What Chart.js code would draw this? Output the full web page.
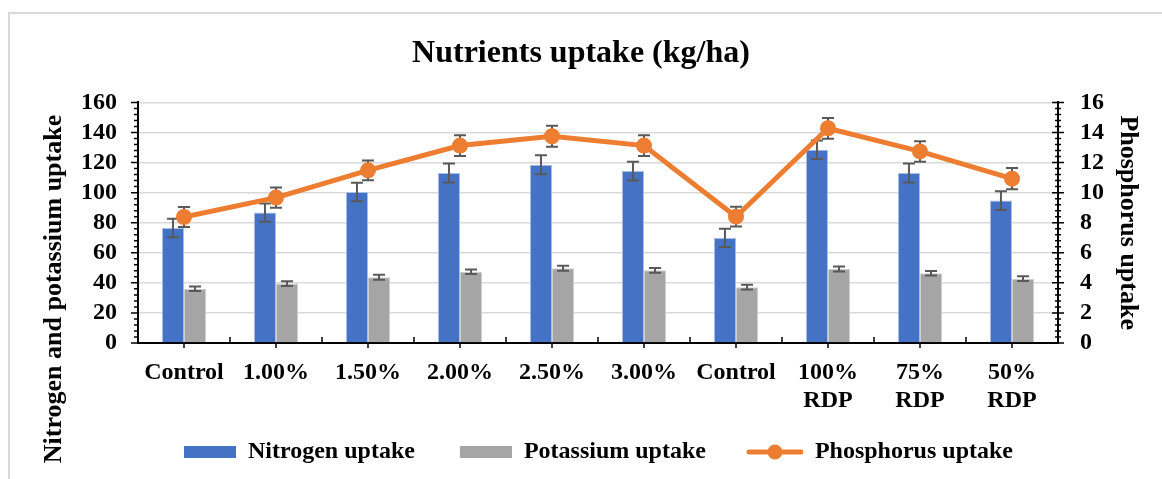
<!DOCTYPE html>
<html>
<head>
<meta charset="utf-8">
<title>Nutrients uptake</title>
<script src="https://cdn.jsdelivr.net/npm/chart.js@4.4.1/dist/chart.umd.min.js"></script>
<style>
body{margin:0;background:#fff}
#wrap{width:1162px;height:479px;position:relative}
</style>
</head>
<body>
<div id="wrap"><canvas id="rel1"></canvas></div>
<script>
var categories = ['Control', '1.00%', '1.50%', '2.00%', '2.50%', '3.00%', 'Control', ['100%', 'RDP'], ['75%', 'RDP'], ['50%', 'RDP']];
var nitrogen = [76.5, 86.7, 100.4, 113, 118.5, 114.3, 69.9, 128.5, 113, 94.7];
var nitrogenErr = [6.2, 6.1, 6.1, 6.3, 6.3, 6.3, 6.1, 6.1, 6.3, 6.2];
var potassium = [36, 39.5, 43.7, 47.4, 49.7, 48.3, 37.1, 49.2, 46.4, 42.8];
var potassiumErr = [1.5, 1.6, 1.7, 1.5, 1.7, 1.6, 1.6, 1.6, 1.5, 1.6];
var phosphorus = [8.38, 9.67, 11.48, 13.13, 13.75, 13.13, 8.4, 14.28, 12.74, 10.93];
var phosphorusErr = [0.67, 0.67, 0.66, 0.69, 0.7, 0.69, 0.66, 0.69, 0.68, 0.7];
var leftTicks = {min: 0, max: 160, step: 20};
var rightTicks = {min: 0, max: 16, step: 2};

var serif = "'Liberation Serif', 'Times New Roman', serif";

// legend icons (blank space on the left makes the gap between items)
function icon(kind, color){
    var c = document.createElement('canvas');
    c.width = 87; c.height = 18;
    var g = c.getContext('2d');
    g.fillStyle = color; g.strokeStyle = color;
    if (kind === 'box') {
        g.fillRect(35, 3, 52, 12);
    } else {
        g.lineWidth = 5; g.lineCap = 'round';
        g.beginPath(); g.moveTo(33, 9); g.lineTo(85, 9); g.stroke();
        g.beginPath(); g.arc(59, 9, 7.5, 0, Math.PI * 2); g.fill();
    }
    return c;
}
var legendIcons = [icon('box', '#4472C4'), icon('box', '#A5A5A5'), icon('line', '#ED7D31')];

function drawErr(chart, i){
    var meta = chart.getDatasetMeta(i);
    var ds = chart.data.datasets[i];
    var scale = chart.scales[meta.yAxisID];
    var ctx = chart.ctx;
    ctx.save();
    ctx.strokeStyle = '#595959';
    ctx.lineWidth = 2;
    meta.data.forEach(function(el, j){
        var v = ds.data[j], e = ds.errors[j];
        var t = scale.getPixelForValue(v + e), b = scale.getPixelForValue(v - e);
        ctx.beginPath();
        ctx.moveTo(el.x, t); ctx.lineTo(el.x, b);
        ctx.moveTo(el.x - 6, t); ctx.lineTo(el.x + 6, t);
        ctx.moveTo(el.x - 6, b); ctx.lineTo(el.x + 6, b);
        ctx.stroke();
    });
    ctx.restore();
}

var errorBars = {
    id: 'errorBars',
    afterDatasetDraw: function(chart, args){ if (args.meta.type === 'bar') drawErr(chart, args.index); },
    beforeDatasetDraw: function(chart, args){ if (args.meta.type === 'line') drawErr(chart, args.index); }
};

var frame = {
    id: 'frame',
    beforeDraw: function(chart){
        var ctx = chart.ctx;
        ctx.save();
        ctx.strokeStyle = '#D9D9D9';
        ctx.lineWidth = 2;
        ctx.strokeRect(9, 13, 1250, 560);
        ctx.restore();
    },
    afterDraw: function(chart){
        var ctx = chart.ctx, a = chart.chartArea;
        var y = chart.scales.y, y1 = chart.scales.y1, x = chart.scales.x;
        ctx.save();
        ctx.strokeStyle = '#000';
        ctx.lineWidth = 1.5;
        ctx.beginPath();
        var k, p;
        for (k = 0; k <= 40; k++) {
            p = y.getPixelForValue(k * 4);
            ctx.moveTo(a.left - (k % 5 === 0 ? 7 : 4), p); ctx.lineTo(a.left, p);
            p = y1.getPixelForValue(k * 0.4);
            if (k % 5 === 0) { ctx.moveTo(a.right - 6, p); ctx.lineTo(a.right + 6, p); }
            else { ctx.moveTo(a.right - 3, p); ctx.lineTo(a.right + 3, p); }
        }
        var half = (x.getPixelForValue(1) - x.getPixelForValue(0)) / 2;
        for (k = 0; k < categories.length; k++) {
            p = x.getPixelForValue(k);
            ctx.moveTo(p, a.bottom); ctx.lineTo(p, a.bottom + 5);
            if (k > 0) { ctx.moveTo(p - half, a.bottom - 6); ctx.lineTo(p - half, a.bottom); }
        }
        ctx.stroke();

        // left axis title
        ctx.translate(54, 289);
        ctx.rotate(-Math.PI / 2);
        ctx.fillStyle = '#000';
        ctx.font = 'bold 26px ' + serif;
        ctx.textAlign = 'center';
        ctx.textBaseline = 'middle';
        ctx.fillText('Nitrogen and potassium uptake', 0, 0);
        ctx.restore();
    }
};

var rel1 = new Chart(document.getElementById('rel1'), {
    type: 'bar',
    data: {
        labels: categories,
        datasets: [{
                type: 'bar',
                label: 'Nitrogen uptake',
                data: nitrogen,
                errors: nitrogenErr,
                backgroundColor: '#4472C4',
                borderColor: '#A9BFE6',
                borderWidth: 1,
                yAxisID: 'y',
                order: 2
            },
            {
                type: 'bar',
                label: 'Potassium uptake',
                data: potassium,
                errors: potassiumErr,
                backgroundColor: '#A5A5A5',
                borderColor: '#D0D0D0',
                borderWidth: 1,
                yAxisID: 'y',
                order: 2
            },
            {
                type: 'line',
                label: 'Phosphorus uptake',
                data: phosphorus,
                errors: phosphorusErr,
                borderColor: '#ED7D31',
                backgroundColor: '#ED7D31',
                borderWidth: 5,
                pointRadius: 8,
                pointHoverRadius: 8,
                pointBorderWidth: 0,
                pointBackgroundColor: '#ED7D31',
                tension: 0,
                fill: false,
                yAxisID: 'y1',
                order: 1
            }
        ]
    },
    options: {
        responsive: true,
        maintainAspectRatio: false,
        animation: false,
        categoryPercentage: 0.48,
        barPercentage: 1,
        layout: {padding: {left: 0, right: 0, top: 0, bottom: 5}},
        plugins: {
            title: {
                display: true,
                text: 'Nutrients uptake (kg/ha)',
                color: '#000',
                font: {family: serif, size: 32, weight: 'bold'},
                padding: {top: 35, bottom: 29}
            },
            legend: {
                position: 'bottom',
                labels: {
                    usePointStyle: true,
                    pointStyleWidth: 87,
                    padding: 10,
                    color: '#000',
                    font: {family: serif, size: 24, weight: 'bold'},
                    generateLabels: function(chart){
                        var items = Chart.defaults.plugins.legend.labels.generateLabels(chart);
                        items.sort(function(a, b){ return a.datasetIndex - b.datasetIndex; });
                        items.forEach(function(it){ it.pointStyle = legendIcons[it.datasetIndex]; });
                        return items;
                    }
                }
            },
            tooltip: {enabled: false}
        },
        scales: {
            x: {
                grid: {display: false, drawTicks: false},
                border: {color: '#000', width: 2},
                ticks: {color: '#000', padding: 15, maxRotation: 0, autoSkip: false, font: {family: serif, size: 24, weight: 'bold'}},
                afterFit: function(s){ s.height = 87; }
            },
            y: {
                position: 'left',
                min: leftTicks.min,
                max: leftTicks.max,
                grid: {color: '#D9D9D9', lineWidth: 1.5, drawTicks: false},
                border: {color: '#000', width: 2},
                ticks: {stepSize: leftTicks.step, autoSkip: false, color: '#000', padding: 21, font: {family: serif, size: 24, weight: 'bold'}},
                afterFit: function(s){ s.width = 138; }
            },
            y1: {
                position: 'right',
                min: rightTicks.min,
                max: rightTicks.max,
                grid: {drawOnChartArea: false, drawTicks: false},
                border: {color: '#000', width: 2},
                ticks: {stepSize: rightTicks.step, autoSkip: false, color: '#000', padding: 22, font: {family: serif, size: 24, weight: 'bold'}},
                title: {
                    display: true,
                    text: 'Phosphorus uptake',
                    color: '#000',
                    font: {family: serif, size: 26, weight: 'bold'},
                    padding: {top: 19, bottom: 0}
                },
                afterFit: function(s){ s.width = 104; }
            }
        }
    },
    plugins: [errorBars, frame]
});
</script>
</body>
</html>
